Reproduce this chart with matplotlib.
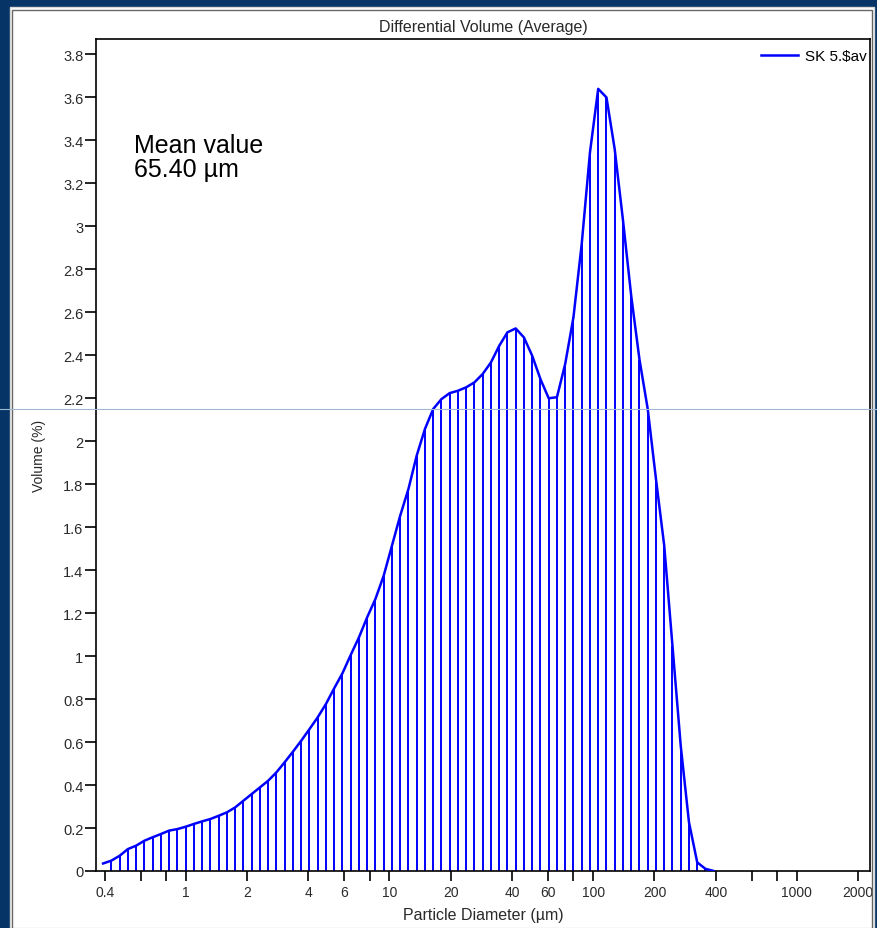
import matplotlib
matplotlib.use("Agg")
import matplotlib.pyplot as plt
from matplotlib.patches import Rectangle
from matplotlib.lines import Line2D
from matplotlib.ticker import NullLocator

# channel centres (um) of the laser sizer and the volume %
diam = [0.393, 0.431, 0.474, 0.520, 0.571, 0.627, 0.688, 0.755, 0.829, 0.910,
        0.999, 1.097, 1.204, 1.322, 1.451, 1.593, 1.749, 1.919, 2.107, 2.313,
        2.539, 2.787, 3.060, 3.359, 3.687, 4.048, 4.444, 4.878, 5.355, 5.879,
        6.453, 7.084, 7.777, 8.537, 9.371, 10.29, 11.29, 12.40, 13.61, 14.94,
        16.40, 18.00, 19.76, 21.70, 23.81, 26.14, 28.70, 31.51, 34.59, 37.97,
        41.68, 45.75, 50.22, 55.14, 60.53, 66.44, 72.94, 80.07, 87.90, 96.49,
        105.9, 116.3, 127.6, 140.1, 153.8, 168.9, 185.4, 203.5, 223.4, 245.2,
        269.2, 295.5, 324.4, 356.1, 390.9]
volume = [0.035, 0.048, 0.071, 0.102, 0.118, 0.141, 0.157, 0.172, 0.188, 0.195,
          0.206, 0.219, 0.231, 0.242, 0.257, 0.273, 0.296, 0.327, 0.358, 0.389,
          0.420, 0.459, 0.506, 0.555, 0.606, 0.660, 0.715, 0.777, 0.850, 0.920,
          1.005, 1.087, 1.181, 1.266, 1.374, 1.514, 1.653, 1.778, 1.933, 2.057,
          2.150, 2.196, 2.224, 2.235, 2.251, 2.274, 2.313, 2.367, 2.444, 2.507,
          2.525, 2.483, 2.398, 2.289, 2.200, 2.205, 2.360, 2.577, 2.918, 3.344,
          3.640, 3.600, 3.360, 3.030, 2.677, 2.380, 2.150, 1.824, 1.514, 1.048,
          0.583, 0.227, 0.040, 0.010, 0.0]

x_ticks = [0.4, 0.6, 0.8, 1, 2, 4, 6, 8, 10, 20, 40, 60, 80, 100, 200, 400,
           600, 800, 1000, 2000]
x_labels = ["0.4", "", "", "1", "2", "4", "6", "", "10", "20", "40", "60", "",
            "100", "200", "400", "", "", "1000", "2000"]
y_ticks = [0, 0.2, 0.4, 0.6, 0.8, 1, 1.2, 1.4, 1.6, 1.8, 2, 2.2, 2.4, 2.6,
           2.8, 3, 3.2, 3.4, 3.6, 3.8]

W, H = 877, 929
NAVY = "#063466"
TXT = "#2a2a2a"
plt.rcParams["font.family"] = ["Liberation Sans", "DejaVu Sans"]

fig = plt.figure(figsize=(W / 100, H / 100), dpi=100)
fig.patch.set_facecolor(NAVY)
# white panel with a thin bevel inside the navy frame
fig.add_artist(Rectangle((10 / W, 0), (874 - 10) / W, (H - 8) / H,
                         transform=fig.transFigure, facecolor="white",
                         edgecolor="#d8d8d8", lw=1.0, zorder=0))
fig.add_artist(Rectangle((12 / W, -0.01), (872 - 12) / W, (H - 11) / H + 0.01,
                         transform=fig.transFigure, facecolor="none",
                         edgecolor="#666666", lw=1.0, zorder=0.5))

ax = fig.add_axes([96 / W, 1 - 872 / H, (870 - 96) / W, (872 - 40) / H])
ax.set_xscale("log")

ax.vlines(diam[1:], 0, volume[1:], color="#0000ff", lw=1.4, zorder=2)
ax.plot(diam, volume, color="#0000ff", lw=1.8, zorder=3, label="SK 5.\\$av")

ax.set_xlim(0.3627, 2287)
ax.set_ylim(0, 3.872)
ax.set_xticks(x_ticks)
ax.set_xticklabels(x_labels)
ax.xaxis.set_minor_locator(NullLocator())
ax.set_yticks(y_ticks)
ax.set_yticklabels(["%g" % v for v in y_ticks])
ax.tick_params(axis="x", direction="out", length=7, width=1.2, pad=3,
               labelsize=10, labelcolor=TXT, color="black")
ax.tick_params(axis="y", direction="out", length=8, width=1.2, pad=1,
               labelsize=10.5, labelcolor=TXT, color="black")
for s in ax.spines.values():
    s.set_linewidth(1.2)
    s.set_color("black")

ax.set_xlabel("Particle Diameter (µm)", fontsize=11.5, color=TXT, labelpad=6)
ax.set_ylabel("Volume (%)", fontsize=10, color=TXT, labelpad=12)
ax.set_title("Differential Volume (Average)", fontsize=11.5, color=TXT, pad=6)

ax.legend(loc="center right", bbox_to_anchor=(1.0, 0.9796), frameon=False,
          fontsize=11, handlelength=2.4, handletextpad=0.5,
          borderaxespad=0.0, borderpad=0.2)

ax.text(0.049, 0.887, "Mean value\n65.40 µm", transform=ax.transAxes,
        fontsize=18, va="top", ha="left", color="black", linespacing=0.98)

# faint horizontal rule running across the whole screenshot
fig.add_artist(Line2D([0, 1], [1 - 410 / H] * 2, transform=fig.transFigure,
                      color="#9fb9d3", lw=0.8, zorder=10))

fig.savefig("out.png", dpi=100, facecolor=fig.get_facecolor())
